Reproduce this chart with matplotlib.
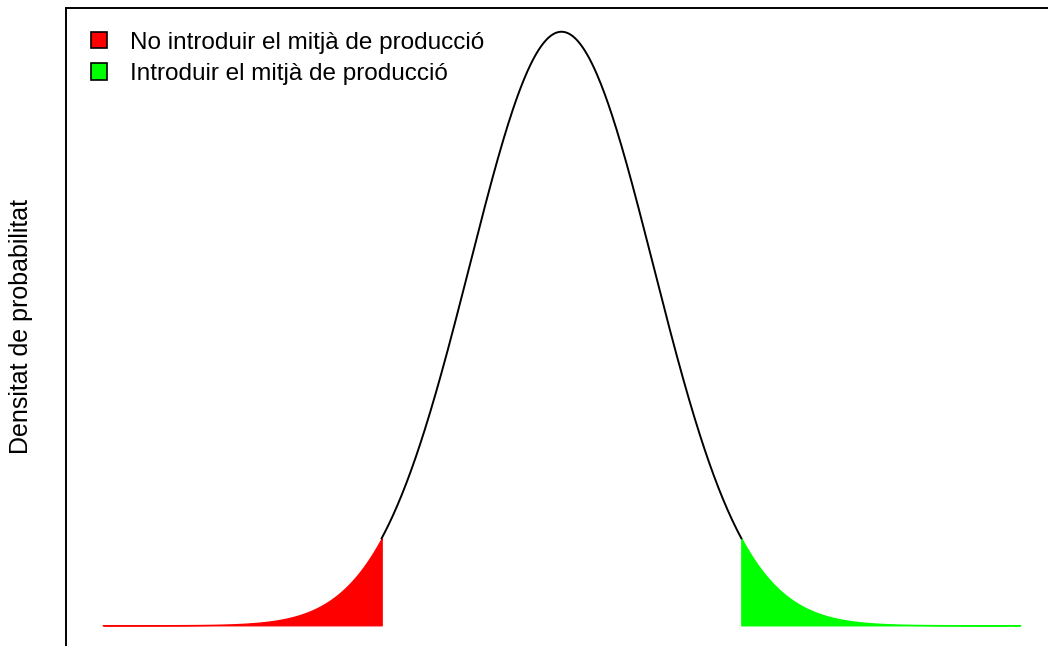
import numpy as np
import matplotlib.pyplot as plt
from matplotlib.patches import Patch

plt.rcParams['font.family'] = ['Liberation Sans', 'DejaVu Sans']

# distribution and cut-off points (standard normal, two-sided 5%)
mean = 0.0
sd = 1.0
x_range = [-5.0, 5.0]
cut_low = -1.96
cut_high = 1.96

labels = ["No introduir el mitjà de producció", "Introduir el mitjà de producció"]
colors = ["#ff0000", "#00ff00"]
ylabel = "Densitat de probabilitat"


def dens(x):
    return np.exp(-0.5 * ((x - mean) / sd) ** 2) / (sd * np.sqrt(2 * np.pi))


x = np.linspace(x_range[0], x_range[1], 1001)
y = dens(x)

fig = plt.figure(figsize=(10.48, 6.46), dpi=100)
# box runs a bit past the right and bottom edge, as in the original export
ax = fig.add_axes([66 / 1048, -3 / 646, 991 / 1048, 641 / 646])

mid = (x >= cut_low) & (x <= cut_high)
ax.plot(x[mid], y[mid], color="black", lw=1.4)

left = x <= cut_low
right = x >= cut_high
ax.fill_between(x[left], 0, y[left], color=colors[0], lw=1, edgecolor=colors[0])
ax.fill_between(x[right], 0, y[right], color=colors[1], lw=1, edgecolor=colors[1])

pad_x = 0.04 * (x_range[1] - x_range[0])
pad_y = 0.04 * y.max()
ax.set_xlim(x_range[0] - pad_x, x_range[1] + pad_x)
ax.set_ylim(-pad_y, y.max() + pad_y)
ax.set_xticks([])
ax.set_yticks([])
for s in ax.spines.values():
    s.set_linewidth(1.4)

fig.text(21 / 1048, 1 - 326 / 646, ylabel, rotation=90, ha="center", va="center",
         fontsize=18)

handles = [Patch(facecolor=c, edgecolor="black", lw=1.2) for c in colors]
ax.legend(handles, labels, loc="upper left", frameon=False, fontsize=17.5,
          handlelength=0.66, handleheight=0.66, handletextpad=0.95,
          labelspacing=0.38, borderaxespad=0.0, bbox_to_anchor=(0.0154, 0.978))

fig.savefig("out.png", dpi=100)
